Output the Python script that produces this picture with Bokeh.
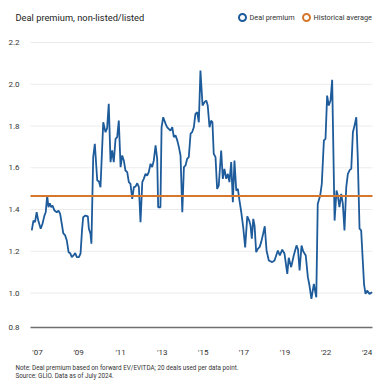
from bokeh.plotting import figure
from bokeh.models import ColumnDataSource, Range1d, FixedTicker, LinearAxis
from bokeh.core.properties import value
from bokeh.embed import file_html
from bokeh.resources import INLINE

# ---- data ----
months = [0, 1, 2, 3, 4, 5.5, 6.6, 7.8, 8.6, 9.5, 10.3, 11.1, 12.0, 12.8, 14.0, 15.4, 16.5,
          17.5, 18.5, 19.4, 20.6, 21.6, 22.7, 23.7, 24.7, 25.7, 26.8, 27.8, 29.1, 30.1, 31.0,
          31.7, 33.1, 34.6, 35.2, 36.2, 36.8, 37.9, 38.9, 40.4, 41.4, 42.4, 44.1, 45.5, 46.5,
          47.5, 48.6, 49.6, 50.6, 51.7, 52.7, 53.7, 54.8, 55.8, 56.8, 57.8, 58.9, 59.9, 60.9,
          62.0, 63.0, 64.0, 65.1, 66.1, 67.1, 68.2, 69.1, 70.2, 71.2, 72.2, 73.3, 74.3, 75.3,
          76.4, 77.4, 78.0, 79.4, 80.1, 81.1, 82.6, 83.6, 85.6, 86.7, 87.7, 88.7, 89.8, 90.8,
          91.8, 92.9, 93.9, 94.9, 95.9, 96.9, 98.0, 99.0, 100.0, 101.0, 102.1, 103.1, 104.1,
          105.4, 106.6, 107.7, 108.6, 109.7, 110.7, 111.5, 112.3, 113.4, 114.4, 115.4, 116.9,
          117.9, 118.9, 120.0, 121.0, 122.0, 123.1, 124.1, 125.1, 126.2, 127.2, 128.2, 129.3,
          130.5, 131.7, 133.0, 134.2, 135.0, 135.8, 136.7, 137.5, 138.5, 139.5, 140.6, 141.6,
          142.8, 143.8, 144.9, 146.3, 148.4, 149.8, 151.9, 153.1, 154.6, 156.0, 157.7, 158.6,
          160.1, 161.7, 163.4, 164.3, 165.3, 166.5, 167.5, 169.1, 170.4, 171.4, 172.6, 174.1,
          175.6, 176.5, 178.0, 179.0, 180.3, 181.3, 182.3, 183.3, 184.4, 185.4, 186.9, 188.1,
          188.9, 189.9, 191.0, 192.0, 193.0, 194.1, 195.1, 196.3, 197.2, 198.2, 199.2, 200.3,
          201.2, 202.3, 203.3, 204.3, 205.1, 206.0, 207.0, 208.4, 210.1]
premium = [1.300, 1.347, 1.340, 1.387, 1.347, 1.308, 1.332, 1.371, 1.387, 1.467, 1.411, 1.430,
           1.411, 1.419, 1.395, 1.387, 1.395, 1.379, 1.332, 1.287, 1.276, 1.252, 1.196, 1.191,
           1.172, 1.180, 1.191, 1.172, 1.172, 1.190, 1.300, 1.363, 1.371, 1.367, 1.309, 1.284,
           1.236, 1.650, 1.715, 1.539, 1.535, 1.507, 1.818, 1.770, 1.790, 1.906, 1.627, 1.683,
           1.627, 1.739, 1.747, 1.826, 1.603, 1.659, 1.635, 1.587, 1.579, 1.531, 1.523, 1.451,
           1.507, 1.510, 1.526, 1.507, 1.339, 1.531, 1.547, 1.571, 1.563, 1.579, 1.619, 1.603,
           1.635, 1.707, 1.643, 1.411, 1.411, 1.794, 1.842, 1.810, 1.794, 1.778, 1.794, 1.747,
           1.755, 1.731, 1.699, 1.659, 1.387, 1.603, 1.611, 1.643, 1.651, 1.763, 1.771, 1.794,
           1.858, 1.866, 1.818, 2.066, 1.898, 1.914, 1.922, 1.898, 1.794, 1.826, 1.818, 1.667,
           1.651, 1.499, 1.515, 1.683, 1.547, 1.595, 1.547, 1.571, 1.531, 1.627, 1.435, 1.635,
           1.491, 1.499, 1.443, 1.387, 1.315, 1.219, 1.367, 1.347, 1.323, 1.260, 1.355, 1.323,
           1.196, 1.212, 1.220, 1.244, 1.284, 1.320, 1.204, 1.156, 1.148, 1.156, 1.204, 1.180,
           1.208, 1.188, 1.092, 1.169, 1.124, 1.180, 1.228, 1.210, 1.108, 1.228, 1.200, 1.180,
           1.076, 1.036, 0.972, 1.044, 0.980, 1.427, 1.467, 1.523, 1.731, 1.739, 1.946, 1.898,
           1.922, 2.021, 1.347, 1.491, 1.467, 1.411, 1.475, 1.427, 1.300, 1.507, 1.571, 1.590,
           1.595, 1.770, 1.802, 1.842, 1.651, 1.308, 1.300, 1.156, 1.040, 0.996, 1.012, 0.996,
           1.004]
hist_avg = 1.465

x_tick_pos = [3.5, 28.9, 54.8, 80.5, 105.8, 130.9, 156.3, 181.7, 207.0]
x_tick_labels = ["'07", "'09", "'11", "'13", "'15", "'17", "'19", "'22", "'24"]
y_tick_vals = [0.835, 1.0, 1.2, 1.4, 1.6, 1.8, 2.0, 2.2]
y_tick_labels = ["0.8", "1.0", "1.2", "1.4", "1.6", "1.8", "2.0", "2.2"]

title_text = "Deal premium, non-listed/listed"
series_names = ["Deal premium", "Historical average"]
note_text = "Note: Deal premium based on forward EV/EVITDA; 20 deals used per data point."
source_text = "Source: GLIO. Data as of July 2024."

# ---- layout constants (pixels) ----
W = H = 390
FL, FR, FT, FB = 30, 372, 42, 327          # plotting area edges
X0, X1 = -0.8, 210.3                        # data extent shown between FL..FR
Y0, Y1 = 0.835, 2.2                         # data extent shown between FB..FT

BLUE = "#1d5b9b"
ORANGE = "#d5772c"
TEXT = "#333333"
FONT = "Roboto"

sx = (X1 - X0) / (FR - FL)
sy = (Y1 - Y0) / (FB - FT)
xr = Range1d(X0 - FL * sx, X1 + (W - FR) * sx)
yr = Range1d(Y0 - (H - FB) * sy, Y1 + FT * sy)

p = figure(width=W, height=H, output_backend="svg", toolbar_location=None,
           x_range=xr, y_range=yr, x_axis_location=None, y_axis_location=None,
           min_border=0)
p.outline_line_color = None
p.grid.visible = False
p.extra_x_ranges = {"px": Range1d(0, W)}
p.extra_y_ranges = {"px": Range1d(H, 0)}

# axes drawn at fixed locations
xaxis = LinearAxis(fixed_location=Y0, bounds=(X0, X1),
                   ticker=FixedTicker(ticks=x_tick_pos),
                   major_label_overrides=dict(zip(x_tick_pos, x_tick_labels)),
                   axis_line_color="#6e6e6e", axis_line_width=1.5,
                   major_tick_line_color=None, minor_tick_line_color=None,
                   major_label_standoff=14, major_label_text_font=FONT,
                   major_label_text_font_size="8px", major_label_text_color=TEXT)
p.add_layout(xaxis, "below")
yaxis = LinearAxis(fixed_location=X0, bounds=(Y0, Y1),
                   ticker=FixedTicker(ticks=y_tick_vals),
                   major_label_overrides=dict(zip(y_tick_vals, y_tick_labels)),
                   axis_line_color=None, major_tick_line_color=None,
                   minor_tick_line_color=None, major_label_standoff=5,
                   major_label_text_font=FONT, major_label_text_font_size="8px",
                   major_label_text_color=TEXT)
p.add_layout(yaxis, "left")

# horizontal grid lines between the plotting-area edges
grid_vals = y_tick_vals[1:]
grid = ColumnDataSource(data=dict(x0=[X0] * len(grid_vals), x1=[X1] * len(grid_vals),
                                  y=grid_vals))
p.segment(x0="x0", x1="x1", y0="y", y1="y", source=grid, line_color="#ececec",
          line_width=1)

# series
src = ColumnDataSource(data=dict(x=months, y=premium))
p.line("x", "y", source=src, line_color=BLUE, line_width=1.8)
p.segment(x0=[X0], x1=[X1], y0=[hist_avg], y1=[hist_avg], line_color=ORANGE,
          line_width=2)

# header: title + legend (pixel coordinates)
p.text(x=[15], y=[17], text=[title_text], text_baseline="middle",
       text_font=value(FONT), text_font_size="9.3px", text_color="#222222",
       x_range_name="px", y_range_name="px")
p.scatter(x=[242, 306], y=[17, 17], marker="circle", size=7, fill_color="white",
          line_color=[BLUE, ORANGE], line_width=2, x_range_name="px",
          y_range_name="px")
p.text(x=[249, 313], y=[17, 17], text=series_names, text_baseline="middle",
       text_font=value(FONT), text_font_size="7.3px", text_color=TEXT,
       x_range_name="px", y_range_name="px")

# footer
p.text(x=[15, 15], y=[367.7, 375.3], text=[note_text, source_text],
       text_baseline="middle", text_font=value(FONT), text_font_size="6.3px",
       text_color=TEXT, x_range_name="px", y_range_name="px")

open("out.html", "w").write(file_html(p, INLINE))
